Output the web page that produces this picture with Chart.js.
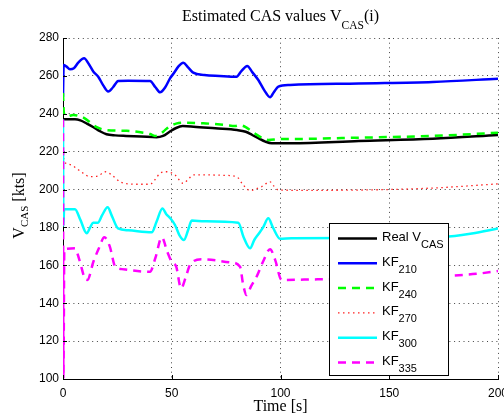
<!DOCTYPE html>
<html>
<head>
<meta charset="utf-8">
<script src="https://cdn.jsdelivr.net/npm/chart.js@4.4.0/dist/chart.umd.min.js"></script>
<style>
  html, body { margin: 0; padding: 0; background: #fff; }
  canvas { display: block; }
</style>
</head>
<body>
<canvas id="casChart" width="504" height="417"></canvas>
<script>
// values (time in s, CAS in kts)
const realT = [0, 5.5, 8, 11, 14, 17, 20, 24, 29, 36, 43, 46, 49, 52, 55, 60, 70, 80, 84, 87, 90, 93, 96, 105, 136, 170, 200];
const realV = [237.1, 237.1, 236.5, 234.8, 232.9, 230.8, 229.2, 228.6, 228.3, 228, 227.6, 228.3, 230.5, 232.5, 233.5, 233.2, 232.3, 231.4, 230.5, 228.8, 227, 225.3, 224.4, 224.4, 225.6, 226.8, 228.8];

const kf210T = [0, 0.3, 1.5, 3.2, 5, 7, 9.7, 12, 14, 16.2, 18.5, 20.8, 23, 25.4, 30, 40, 42.5, 44.6, 47, 49.2, 51, 53, 55.3, 57.5, 59.9, 65, 72, 79.8, 82, 84.7, 87, 89.8, 92.5, 95.2, 97, 99, 104.4, 136, 170, 200];
const kf210V = [249, 265.7, 265, 263.5, 264, 267, 269.3, 266, 262.2, 259.6, 255, 251.7, 254, 257.3, 257.5, 257.3, 254, 251.3, 254, 258.7, 261.5, 264.9, 267, 264.5, 261.7, 260.5, 260, 259.6, 262.5, 265.2, 262, 257.8, 252.5, 248.7, 251.5, 254.3, 255.2, 256, 256.8, 258.5];

const kf240T = [0, 0.4, 1.7, 4.7, 7, 10, 13, 15.5, 20, 29.3, 37, 40, 42.3, 45, 47, 49.2, 52, 55.3, 64.5, 75, 79, 81.4, 84, 86, 89, 92, 94.4, 99.8, 104, 136.5, 170, 200];
const kf240V = [251, 240.5, 238.5, 239.4, 239, 237.6, 235, 232.9, 231.4, 231, 230, 229.3, 228.3, 229.5, 231.5, 233.5, 234.8, 235.3, 235, 234, 233.5, 234, 233, 231.4, 229, 227, 226.2, 226.7, 226.7, 227.4, 228.3, 230];

const kf270T = [0, 0.5, 1.7, 4.7, 7, 9.3, 12.4, 16.2, 19.3, 22.4, 26.2, 30, 35.4, 40, 42.5, 44.6, 47.7, 51.5, 55.3, 58, 60, 67.6, 74, 79.8, 82.9, 86, 88.5, 91.3, 95.2, 97, 99, 110, 140, 170, 200];
const kf270V = [222, 215, 213.8, 212.4, 210.5, 208.6, 206.8, 207.2, 209.4, 207.7, 204.1, 203, 202.8, 202.8, 205.5, 208.6, 209.4, 207.7, 203.3, 206, 207.7, 207.7, 207.5, 206.8, 202.4, 199.4, 200.3, 201.5, 204.1, 201.8, 199.8, 199.6, 199.8, 200.8, 203];

const kf300T = [0, 0.2, 0.5, 5.5, 8, 10.9, 12.5, 13.8, 16, 18, 20.5, 22.5, 25.3, 30, 40.8, 43, 45.7, 47.5, 49.2, 51.5, 53.5, 55.6, 57.5, 59.2, 65, 80.6, 83, 86, 88, 89.8, 92, 94.4, 96.5, 99.8, 105, 140, 175, 188, 200];
const kf300V = [237, 181, 189.6, 189.6, 184, 176.9, 180, 182.5, 182.5, 186.5, 190.6, 186, 179.5, 178.5, 177.4, 183, 190, 187, 185, 181.3, 176, 173.4, 178.5, 183.6, 183.3, 182.5, 175, 169, 173.5, 176.4, 180, 184.8, 180, 174, 174.3, 174.5, 175, 176.8, 179.5];

const kf335T = [0, 0.2, 0.6, 5.5, 7.5, 10, 11.2, 14, 16.5, 19, 21.5, 24, 27, 40, 42.5, 45.4, 48, 50, 52, 54.3, 56.5, 58.4, 63.8, 76.8, 81.4, 82.8, 84.4, 86.5, 89, 92, 95.2, 97.5, 100.5, 117, 150, 176, 190, 200];
const kf335V = [237, 100, 168.5, 169, 163, 153.2, 152.3, 162, 169, 174.8, 170, 159.3, 158, 156.6, 164, 174.8, 167, 161.8, 159.5, 147.9, 154, 160.2, 163.2, 161.6, 159.3, 150, 144.3, 149, 154, 162, 168.5, 163, 152.3, 152.6, 153, 154.4, 155.5, 157];

const seriesNames = ["Real V_{CAS}", "KF_{210}", "KF_{240}", "KF_{270}", "KF_{300}", "KF_{335}"];
const xTicks = [0, 50, 100, 150, 200];
const yTicks = [100, 120, 140, 160, 180, 200, 220, 240, 260, 280];
const titleText = "Estimated CAS values V_{CAS}(i)";
const xTitle = "Time [s]";
const yTitle = "V_{CAS} [kts]";

// line styles (matlab defaults)
const colors = ["#000000", "#0000ff", "#00ff00", "#ff2020", "#00ffff", "#ff00ff"];
const dashes = [[], [], [8, 6], [1.5, 3.5], [], [8, 6]];
const widths = [2.5, 2.5, 2.5, 1.3, 2.5, 2.5];

const serif = "'Liberation Serif', 'DejaVu Serif', serif";
const sans = "'Liberation Sans', Arial, sans-serif";

const toPoints = (ts, vs) => ts.map((t, i) => ({ x: t, y: vs[i] }));
const allSeries = [
  toPoints(realT, realV),
  toPoints(kf210T, kf210V),
  toPoints(kf240T, kf240V),
  toPoints(kf270T, kf270V),
  toPoints(kf300T, kf300V),
  toPoints(kf335T, kf335V),
];

// split "KF_{210}" into normal / subscript parts
function richParts(str) {
  const parts = [];
  const re = /_\{([^}]*)\}/g;
  let last = 0, m;
  while ((m = re.exec(str))) {
    if (m.index > last) parts.push({ t: str.slice(last, m.index), sub: false });
    parts.push({ t: m[1], sub: true });
    last = re.lastIndex;
  }
  if (last < str.length) parts.push({ t: str.slice(last), sub: false });
  return parts;
}

function drawRich(ctx, str, x, y, fam, size, subSize, subDrop, align) {
  const parts = richParts(str);
  ctx.textAlign = "left";
  ctx.textBaseline = "alphabetic";
  let w = 0;
  parts.forEach(p => {
    ctx.font = (p.sub ? subSize : size) + "px " + fam;
    p.w = ctx.measureText(p.t).width;
    w += p.w;
  });
  let cx = align === "center" ? x - w / 2 : x;
  parts.forEach(p => {
    ctx.font = (p.sub ? subSize : size) + "px " + fam;
    ctx.fillText(p.t, cx, y + (p.sub ? subDrop : 0));
    cx += p.w;
  });
}

const matlabLook = {
  id: "matlabLook",
  afterDraw(chart) {
    const { ctx, chartArea: a, scales } = chart;
    const xs = scales.x, ys = scales.y;
    ctx.save();

    // inward tick marks
    ctx.strokeStyle = "#000";
    ctx.lineWidth = 1;
    ctx.setLineDash([]);
    ctx.beginPath();
    yTicks.forEach(v => {
      const py = Math.round(ys.getPixelForValue(v)) + 0.5;
      ctx.moveTo(a.left, py);
      ctx.lineTo(a.left + 4, py);
    });
    xTicks.forEach(v => {
      const px = Math.round(xs.getPixelForValue(v)) + 0.5;
      ctx.moveTo(px, a.bottom);
      ctx.lineTo(px, a.bottom - 4);
    });
    ctx.stroke();

    ctx.fillStyle = "#000";
    // title
    drawRich(ctx, titleText, (a.left + a.right) / 2, 21, serif, 16, 11.5, 7.5, "center");
    // x title
    drawRich(ctx, xTitle, (a.left + a.right) / 2, 411, serif, 16, 11, 4, "center");
    // y title, rotated
    ctx.save();
    ctx.translate(24, (a.top + a.bottom) / 2 - 3);
    ctx.rotate(-Math.PI / 2);
    drawRich(ctx, yTitle, 0, 0, serif, 16, 11, 4, "center");
    ctx.restore();

    // legend
    const bx = 329.5, by = 223.5, bw = 119, bh = 152;
    ctx.fillStyle = "#fff";
    ctx.fillRect(bx, by, bw, bh);
    ctx.strokeStyle = "#000";
    ctx.lineWidth = 1;
    ctx.strokeRect(bx, by, bw, bh);
    seriesNames.forEach((name, i) => {
      const ry = 238.5 + i * 24.8;
      ctx.save();
      ctx.strokeStyle = colors[i];
      ctx.lineWidth = widths[i];
      ctx.setLineDash(dashes[i]);
      ctx.beginPath();
      ctx.moveTo(338, ry);
      ctx.lineTo(377, ry);
      ctx.stroke();
      ctx.restore();
      ctx.fillStyle = "#000";
      drawRich(ctx, name, 382, ry + 2.5, sans, 13, 11, 7, "left");
    });
    ctx.restore();
  }
};

new Chart(document.getElementById("casChart").getContext("2d"), {
  type: "line",
  data: {
    datasets: allSeries.map((pts, i) => ({
      label: seriesNames[i],
      data: pts,
      borderColor: colors[i],
      backgroundColor: colors[i],
      borderWidth: widths[i],
      borderDash: dashes[i],
      pointRadius: 0,
      fill: false,
      cubicInterpolationMode: "monotone",
      order: seriesNames.length - i,
    })),
  },
  options: {
    responsive: false,
    animation: false,
    layout: { padding: { left: 0, right: 6, top: 38, bottom: 0 } },
    plugins: {
      legend: { display: false },
      title: { display: false },
      tooltip: { enabled: false },
    },
    scales: {
      x: {
        type: "linear",
        min: 0,
        max: 200,
        afterBuildTicks: s => { s.ticks = xTicks.map(v => ({ value: v })); },
        afterFit: s => { s.height = 38; s.paddingLeft = 0; s.paddingRight = 0; },
        ticks: { color: "#000", padding: 7, font: { family: sans, size: 12 } },
        grid: { color: "#444", lineWidth: 1, drawTicks: false },
        border: { display: true, color: "#000", width: 1, dash: [1, 3.7] },
      },
      y: {
        type: "linear",
        min: 100,
        max: 280,
        afterBuildTicks: s => { s.ticks = yTicks.map(v => ({ value: v })); },
        afterFit: s => { s.width = 63; s.paddingTop = 0; s.paddingBottom = 0; },
        ticks: { color: "#000", padding: 4, font: { family: sans, size: 12 } },
        grid: { color: "#444", lineWidth: 1, drawTicks: false },
        border: { display: true, color: "#000", width: 1, dash: [1, 3.7] },
      },
    },
  },
  plugins: [matlabLook],
});
</script>
</body>
</html>
